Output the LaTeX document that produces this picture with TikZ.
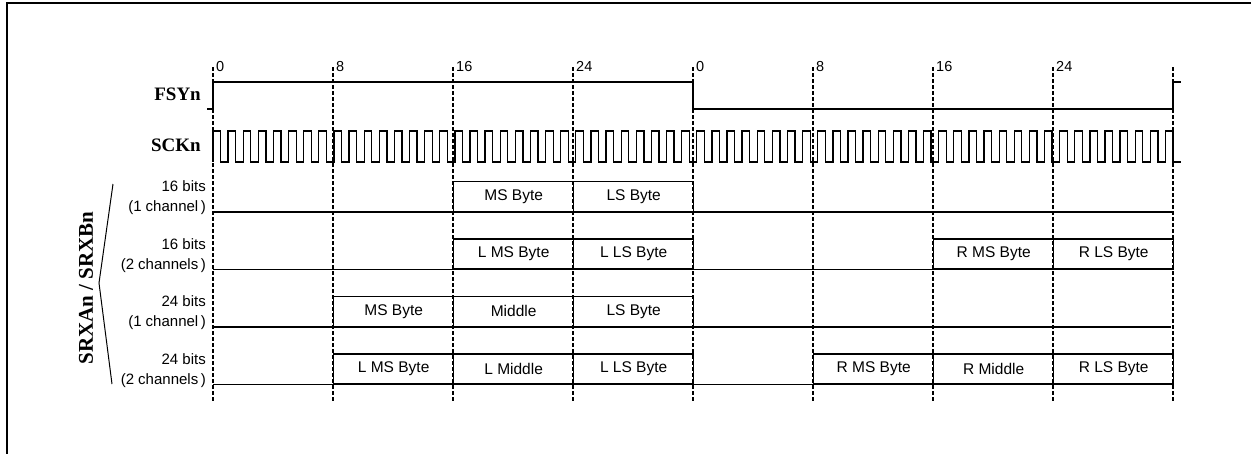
\documentclass[tikz,border=0pt]{standalone}
\usepackage{fontspec}
\setmainfont{Liberation Sans}
\newfontfamily\timesfont{Liberation Serif}

\begin{document}
\begin{tikzpicture}[x=1pt, y=-1pt,
  sig/.style={line width=1.3pt},
  grid/.style={line width=1.1pt, dash pattern=on 4pt off 2pt},
  byte/.style={draw, line width=1.3pt, minimum width=120pt, minimum height=30pt,
    inner sep=0pt, anchor=south west, font=\fontsize{15.5}{18}\selectfont},
  rowlbl/.style={anchor=south east, inner sep=0pt, align=right,
    font=\fontsize{15}{20}\selectfont},
  siglbl/.style={anchor=base east, inner sep=0pt,
    font=\timesfont\bfseries\fontsize{19}{22}\selectfont}]
  \useasboundingbox (0,0) rectangle (1251,453);
  \draw[line width=2pt] (7,470) -- (7,2.5) -- (1270,2.5);

  % bit grid
  \foreach \x in {213,333,...,1173}
    \draw[grid] (\x,67) -- (\x,402);
  \foreach \x/\n [count=\i] in {213/0,333/8,453/16,573/24,693/0,813/8,933/16,1053/24}
    \node[anchor=base west, inner sep=0pt, font=\fontsize{14.5}{16}\selectfont]
      (tick\i) at (\x+3,71) {\n};

  % frame sync and clock
  \node[siglbl] (fsy) at (201,100) {FSYn};
  \node[siglbl] (sck) at (201,151) {SCKn};
  \draw[sig] (207,109) -- (213,109) -- (213,82) -- (693,82) -- (693,109)
    -- (1173,109) -- (1173,82) -- (1181,82);
  \pgfmathsetmacro{\T}{960/63.5}
  \draw[sig] (213,162) \foreach \i in {1,...,64} {
    -- ++(0,-31) -- ++(\T/2,0) -- ++(0,31) -- ++(\T/2,0)};

  % receive data
  \node[rotate=90, font=\timesfont\bfseries\fontsize{21}{24}\selectfont]
    (srx) at (86,288) {SRXAn / SRXBn};
  \draw[line width=1pt] (113,184) -- (99,283) -- (112,384);

  \node[rowlbl] (r1) at (206,215) {16 bits\\(1 channel\,)};
  \node[rowlbl] (r2) at (206,272.5) {16 bits\\(2 channels\,)};
  \node[rowlbl] (r3) at (206,330) {24 bits\\(1 channel\,)};
  \node[rowlbl] (r4) at (206,387.5) {24 bits\\(2 channels\,)};

  \draw[sig] (213,212) -- (1173,212);
  \node[byte] (a1) at (453,212) {MS Byte};
  \node[byte] (a2) at (573,212) {LS Byte};

  \draw[sig] (213,269.5) -- (1173,269.5);
  \node[byte] (b1) at (453,269.5) {L MS Byte};
  \node[byte] (b2) at (573,269.5) {L LS Byte};
  \node[byte] (b3) at (933,269.5) {R MS Byte};
  \node[byte] (b4) at (1053,269.5) {R LS Byte};

  \draw[sig] (213,327) -- (1171,327);
  \node[byte] (c1) at (333,327) {MS Byte};
  \node[byte] (c2) at (453,327) {Middle};
  \node[byte] (c3) at (573,327) {LS Byte};

  \draw[sig] (213,384.5) -- (1173,384.5);
  \node[byte] (d1) at (333,384.5) {L MS Byte};
  \node[byte] (d2) at (453,384.5) {L Middle};
  \node[byte] (d3) at (573,384.5) {L LS Byte};
  \node[byte] (d4) at (813,384.5) {R MS Byte};
  \node[byte] (d5) at (933,384.5) {R Middle};
  \node[byte] (d6) at (1053,384.5) {R LS Byte};
\end{tikzpicture}
\end{document}
